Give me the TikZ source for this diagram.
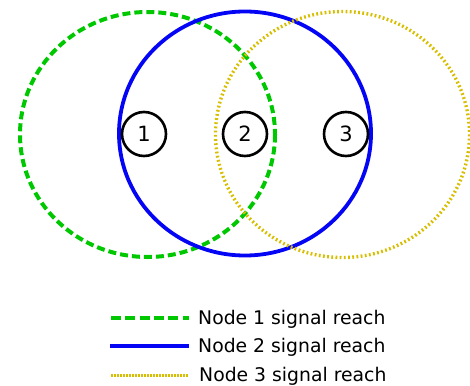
\documentclass[tikz,border=0pt]{standalone}
\usepackage{fontspec}
\setmainfont{DejaVu Sans}
\definecolor{reachgreen}{RGB}{0,200,0}
\definecolor{reachblue}{RGB}{5,5,245}
\definecolor{reachyellow}{RGB}{215,190,0}
\begin{document}
\begin{tikzpicture}[x=1pt,y=-1pt,
  greenreach/.style={draw=reachgreen, line width=4pt, dash pattern=on 8pt off 4pt},
  bluereach/.style={draw=reachblue, line width=3.8pt},
  yellowreach/.style={draw=reachyellow, line width=3.4pt, dash pattern=on 1.8pt off 2.4pt},
  nodecirc/.style={circle, draw=black, line width=2.6pt, fill=white, minimum size=44pt,
    inner sep=0pt, font=\fontsize{21}{25}\selectfont},
  legendtext/.style={anchor=base west, inner sep=0pt, font=\fontsize{18.8}{22}\selectfont}]
  \useasboundingbox (0,0) rectangle (470,385);

  % centres of the three coverage areas
  \coordinate (c1) at (147.5,134.5);
  \coordinate (c2) at (245,133.5);
  \coordinate (c3) at (342.5,134.5);

  % coverage areas
  \draw[greenreach] (c1) ellipse [x radius=127.5, y radius=122.5];
  \draw[bluereach] (c2) ellipse [x radius=126, y radius=122];
  \draw[yellowreach] (c3) ellipse [x radius=127, y radius=123];

  % the three nodes
  \node[nodecirc] (n1) at (144,134) {1};
  \node[nodecirc] (n2) at (245,134) {2};
  \node[nodecirc] (n3) at (346,134) {3};

  % legend
  \coordinate (l1a) at (111,317.7); \coordinate (l1b) at (189,317.7);
  \coordinate (l2a) at (110,345.7); \coordinate (l2b) at (189,345.7);
  \coordinate (l3a) at (111,375.5); \coordinate (l3b) at (188,375.5);
  \draw[greenreach, line width=3.8pt, dash pattern=on 10pt off 4.3pt] (l1a) -- (l1b);
  \draw[bluereach, line width=3.8pt] (l2a) -- (l2b);
  \draw[yellowreach, line width=2.4pt, dash pattern=on 1.6pt off 1.4pt] (l3a) -- (l3b);
  \node[legendtext] (t1) at (198,324.3) {Node 1 signal reach};
  \node[legendtext] (t2) at (198,352.3) {Node 2 signal reach};
  \node[legendtext] (t3) at (199,381) {Node 3 signal reach};
\end{tikzpicture}
\end{document}
